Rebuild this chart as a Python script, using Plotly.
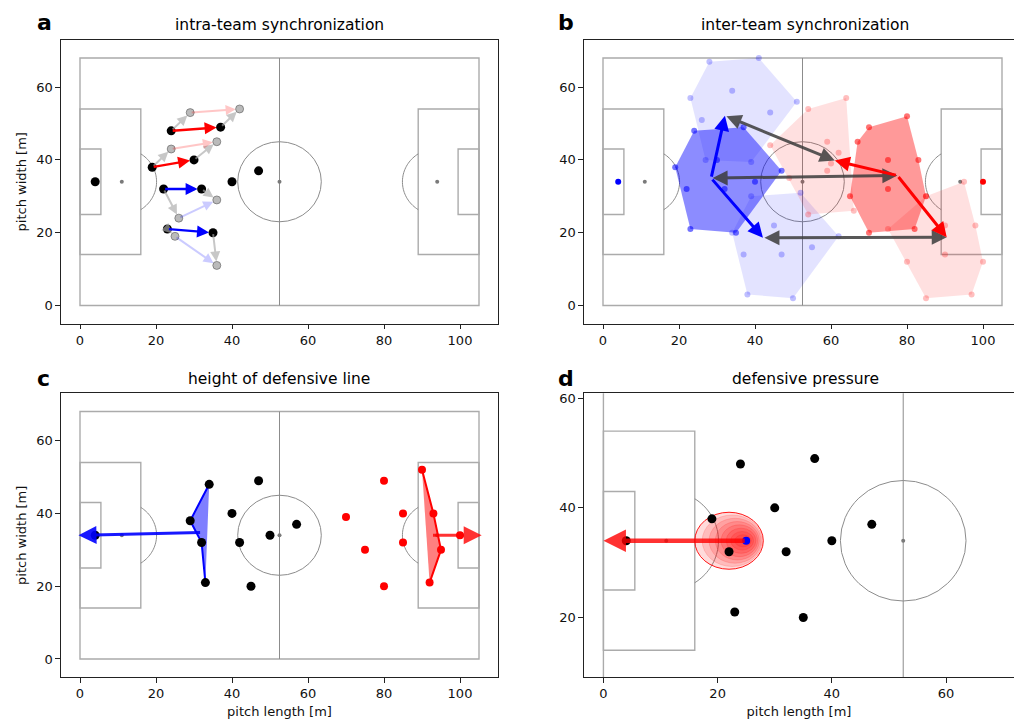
import numpy as np
import plotly.graph_objects as go

# ---------------------------------------------------------------- data
# (a) intra-team synchronization: four players, current run and shifted run
a_team = ["red", "red", "blue", "blue"]
a_x0 = [24, 19, 22, 23]
a_y0 = [48, 38, 32, 21]
a_x1 = [37, 30, 32, 35]
a_y1 = [49, 40, 32, 20]
a_alt_x0 = [29, 24, 26, 25]
a_alt_y0 = [53, 43, 24, 19]
a_alt_x1 = [42, 36, 36, 36]
a_alt_y1 = [54, 45, 29, 11]
a_other_x = [4, 40, 47]
a_other_y = [34, 34, 37]

# (b) inter-team synchronization: team shapes (outfield players) and goalkeepers
b_blue_gk = (4, 34)
b_red_gk = (100, 34)
b_blue_now_x = [24, 37, 19, 30, 22, 32, 23, 35, 40, 47]
b_blue_now_y = [48, 49, 38, 40, 32, 32, 21, 20, 34, 37]
b_blue_up_x = [28, 41, 51, 44, 34, 23, 26, 39, 27, 36]
b_blue_up_y = [67, 68, 56, 53, 59, 57, 51, 39.4, 40, 49.5]
b_blue_low_x = [34, 39, 45, 52, 62, 55, 50, 38, 37, 47]
b_blue_low_y = [20, 30, 22, 31, 19, 16, 2, 3, 14, 14]
b_red_now_x = [70, 80, 83, 75, 67, 65, 75, 85, 82, 70]
b_red_now_y = [49, 52, 40, 40, 45, 30, 32, 30, 21, 20]
b_red_up_x = [54, 64, 59, 59, 44, 49, 54, 66, 60, 62]
b_red_up_y = [54, 57, 45, 37, 44, 35, 25, 26, 39, 42]
b_red_low_x = [95, 90, 98, 90, 100, 97, 85, 80, 75, 85]
b_red_low_y = [34, 22, 22, 14, 12, 3, 2, 12, 21, 30]

# (c) height of defensive line
c_blue_line_x = [34, 29, 32, 33]
c_blue_line_y = [48, 38, 32, 21]
c_blue_other_x = [4, 40, 42, 50, 57, 47, 45]
c_blue_other_y = [34, 40, 32, 34, 37, 49, 20]
c_red_line_x = [90, 93, 95, 92]
c_red_line_y = [52, 40, 30, 21]
c_red_other_x = [80, 70, 85, 85, 75, 80, 100]
c_red_other_y = [49, 39, 40, 32, 30, 20, 34]
c_arrow_x0 = [32.0, 92.5]
c_arrow_y0 = [34.75, 34.0]
c_arrow_x1 = [-0.4, 105.7]
c_arrow_y1 = [34.0, 34.0]

# (d) defensive pressure
d_team_x = [4, 24, 37, 19, 30, 22, 32, 23, 35, 40, 47]
d_team_y = [34, 48, 49, 38, 40, 32, 32, 21, 20, 34, 37]
d_ball = (25, 34)
d_goal = (0, 34)
# pressure iso-lines (outer to inner): x and y extents
d_lvl_x0 = [16.0, 17.3, 18.5, 19.6, 20.6, 21.5, 22.3, 23.0]
d_lvl_x1 = [28.0, 27.8, 27.6, 27.3, 27.0, 26.7, 26.3, 25.9]
d_lvl_y0 = [28.8, 29.3, 29.9, 30.5, 31.1, 31.7, 32.3, 32.9]
d_lvl_y1 = [39.2, 38.7, 38.1, 37.5, 36.9, 36.3, 35.7, 35.1]

# ---------------------------------------------------------------- helpers
W, H = 1014, 719
FONT = "DejaVu Sans"


def px(x):
    return x / W


def py(y):
    return 1 - y / H


def convex_hull(xs, ys):
    pts = sorted(set(zip(xs, ys)))

    def cross(o, a, b):
        return (a[0] - o[0]) * (b[1] - o[1]) - (a[1] - o[1]) * (b[0] - o[0])

    lower, upper = [], []
    for p in pts:
        while len(lower) >= 2 and cross(lower[-2], lower[-1], p) <= 0:
            lower.pop()
        lower.append(p)
    for p in reversed(pts):
        while len(upper) >= 2 and cross(upper[-2], upper[-1], p) <= 0:
            upper.pop()
        upper.append(p)
    hull = lower[:-1] + upper[:-1]
    return [p[0] for p in hull], [p[1] for p in hull]


BOX_C = "#ababab"
MID_C = "#8c8c8c"


def pitch_shapes(xr, yr):
    shapes = []

    def rect(x0, y0, x1, y1):
        shapes.append(dict(type="rect", xref=xr, yref=yr, x0=x0, y0=y0, x1=x1, y1=y1,
                           line=dict(color=BOX_C, width=1.4), layer="below"))

    rect(0, 0, 105, 68)
    rect(0, 14, 16, 54)
    rect(0, 25, 5.5, 43)
    rect(89, 14, 105, 54)
    rect(99.5, 25, 105, 43)
    shapes.append(dict(type="line", xref=xr, yref=yr, x0=52.5, x1=52.5, y0=0, y1=68,
                       line=dict(color=MID_C, width=1), layer="below"))
    shapes.append(dict(type="circle", xref=xr, yref=yr, x0=52.5 - 11, x1=52.5 + 11,
                       y0=34 - 11, y1=34 + 11, line=dict(color=MID_C, width=1), layer="below"))
    r = 9.15
    lim = np.arccos(5.0 / r)
    th = np.linspace(-lim, lim, 40)
    for cx, sgn in ((11, 1), (94, -1)):
        xs = cx + sgn * r * np.cos(th)
        ys = 34 + r * np.sin(th)
        path = "M" + " L".join(f"{x:.3f},{y:.3f}" for x, y in zip(xs, ys))
        shapes.append(dict(type="path", xref=xr, yref=yr, path=path,
                           line=dict(color=MID_C, width=1), layer="below"))
    return shapes


def spots(xa, ya):
    return go.Scatter(x=[11, 52.5, 94], y=[34, 34, 34], xaxis=xa, yaxis=ya, mode="markers",
                      marker=dict(size=4, color="#7a7a7a"), hoverinfo="skip", showlegend=False)


def arrow(xr, yr, x0, y0, x1, y1, color, width, size=1.0, head=2, both=False, standoff=0):
    d = dict(x=x1, y=y1, ax=x0, ay=y0, xref=xr, yref=yr, axref=xr, ayref=yr,
             text="", showarrow=True, arrowhead=head, arrowsize=size, arrowwidth=width,
             arrowcolor=color, standoff=standoff)
    if both:
        d.update(arrowside="end+start", startarrowhead=head, startarrowsize=size,
                 startstandoff=standoff)
    return d


fig = go.Figure()
shapes = []
annotations = []

# ---------------------------------------------------------------- panel a
shapes += pitch_shapes("x", "y")
fig.add_trace(spots("x", "y"))
for i, team in enumerate(a_team):
    faint = "rgba(255,0,0,0.22)" if team == "red" else "rgba(0,0,255,0.2)"
    strong = "#ff0000" if team == "red" else "#0000ff"
    annotations.append(arrow("x", "y", a_x0[i], a_y0[i], a_alt_x0[i], a_alt_y0[i],
                             "rgba(170,170,170,0.65)", 2, 1.0, standoff=4))
    annotations.append(arrow("x", "y", a_x1[i], a_y1[i], a_alt_x1[i], a_alt_y1[i],
                             "rgba(170,170,170,0.65)", 2, 1.0, standoff=4))
    annotations.append(arrow("x", "y", a_alt_x0[i], a_alt_y0[i], a_alt_x1[i], a_alt_y1[i],
                             faint, 2, 1.0, standoff=4))
    annotations.append(arrow("x", "y", a_x0[i], a_y0[i], a_x1[i], a_y1[i],
                             strong, 2.4, 1.0, standoff=4))
fig.add_trace(go.Scatter(x=a_alt_x0 + a_alt_x1, y=a_alt_y0 + a_alt_y1, xaxis="x", yaxis="y",
                         mode="markers", marker=dict(size=8, color="rgba(140,140,140,0.6)",
                                                     line=dict(color="rgba(90,90,90,0.6)", width=1)),
                         hoverinfo="skip", showlegend=False))
fig.add_trace(go.Scatter(x=a_x0 + a_x1 + a_other_x, y=a_y0 + a_y1 + a_other_y, xaxis="x", yaxis="y",
                         mode="markers", marker=dict(size=9, color="black"),
                         hoverinfo="skip", showlegend=False))

# ---------------------------------------------------------------- panel b
shapes += pitch_shapes("x2", "y2")
fig.add_trace(spots("x2", "y2"))
hull_sets = [
    (b_blue_up_x, b_blue_up_y, "rgba(0,0,255,0.11)", "rgba(0,0,255,0.25)", b_blue_gk),
    (b_blue_low_x, b_blue_low_y, "rgba(0,0,255,0.11)", "rgba(0,0,255,0.25)", b_blue_gk),
    (b_red_up_x, b_red_up_y, "rgba(255,0,0,0.12)", "rgba(255,0,0,0.25)", b_red_gk),
    (b_red_low_x, b_red_low_y, "rgba(255,0,0,0.12)", "rgba(255,0,0,0.25)", b_red_gk),
    (b_blue_now_x, b_blue_now_y, "rgba(0,0,255,0.45)", "rgba(0,0,255,0.55)", b_blue_gk),
    (b_red_now_x, b_red_now_y, "rgba(255,0,0,0.4)", "rgba(255,0,0,0.55)", b_red_gk),
]
centroids = []
for xs, ys, fillc, dotc, gk in hull_sets:
    hx, hy = convex_hull(xs, ys)
    fig.add_trace(go.Scatter(x=hx, y=hy, xaxis="x2", yaxis="y2", mode="lines", fill="toself",
                             fillcolor=fillc, line=dict(width=0), hoverinfo="skip", showlegend=False))
    centroids.append((float(np.mean(list(xs) + [gk[0]])), float(np.mean(list(ys) + [gk[1]]))))
for xs, ys, fillc, dotc, gk in hull_sets:
    fig.add_trace(go.Scatter(x=xs, y=ys, xaxis="x2", yaxis="y2", mode="markers",
                             marker=dict(size=6, color=dotc), hoverinfo="skip", showlegend=False))
fig.add_trace(go.Scatter(x=[b_blue_gk[0]], y=[b_blue_gk[1]], xaxis="x2", yaxis="y2", mode="markers",
                         marker=dict(size=6, color="#0000ff"), hoverinfo="skip", showlegend=False))
fig.add_trace(go.Scatter(x=[b_red_gk[0]], y=[b_red_gk[1]], xaxis="x2", yaxis="y2", mode="markers",
                         marker=dict(size=6, color="#ff0000"), hoverinfo="skip", showlegend=False))
bu, bl, ru, rl, bn, rn = centroids
for a, b in ((bn, rn), (bu, ru), (bl, rl)):
    annotations.append(arrow("x2", "y2", a[0], a[1], b[0], b[1], "rgba(60,60,60,0.85)", 3, 1.0,
                             both=True))
for tgt in (bu, bl):
    annotations.append(arrow("x2", "y2", bn[0], bn[1], tgt[0], tgt[1], "#0000ff", 3, 1.0))
for tgt in (ru, rl):
    annotations.append(arrow("x2", "y2", rn[0], rn[1], tgt[0], tgt[1], "#ff0000", 3, 1.0))

# ---------------------------------------------------------------- panel c
shapes += pitch_shapes("x3", "y3")
fig.add_trace(spots("x3", "y3"))
fig.add_trace(go.Scatter(x=c_blue_line_x, y=c_blue_line_y, xaxis="x3", yaxis="y3", mode="lines",
                         fill="toself", fillcolor="rgba(0,0,255,0.5)",
                         line=dict(color="#0000ff", width=2), hoverinfo="skip", showlegend=False))
fig.add_trace(go.Scatter(x=c_red_line_x, y=c_red_line_y, xaxis="x3", yaxis="y3", mode="lines",
                         fill="toself", fillcolor="rgba(255,0,0,0.5)",
                         line=dict(color="#ff0000", width=2), hoverinfo="skip", showlegend=False))
fig.add_trace(go.Scatter(x=c_red_line_x + c_red_other_x, y=c_red_line_y + c_red_other_y,
                         xaxis="x3", yaxis="y3", mode="markers",
                         marker=dict(size=8, color="#ff0000"), hoverinfo="skip", showlegend=False))
fig.add_trace(go.Scatter(x=c_blue_line_x + c_blue_other_x, y=c_blue_line_y + c_blue_other_y,
                         xaxis="x3", yaxis="y3", mode="markers",
                         marker=dict(size=9, color="black"), hoverinfo="skip", showlegend=False))
annotations.append(arrow("x3", "y3", c_arrow_x0[0], c_arrow_y0[0], c_arrow_x1[0], c_arrow_y1[0],
                         "rgba(0,0,255,0.9)", 3, 1.2))
annotations.append(arrow("x3", "y3", c_arrow_x0[1], c_arrow_y0[1], c_arrow_x1[1], c_arrow_y1[1],
                         "rgba(255,0,0,0.8)", 3, 1.2))

# ---------------------------------------------------------------- panel d
shapes += pitch_shapes("x4", "y4")
for i in range(len(d_lvl_x0)):
    shapes.append(dict(type="circle", xref="x4", yref="y4",
                       x0=d_lvl_x0[i], x1=d_lvl_x1[i], y0=d_lvl_y0[i], y1=d_lvl_y1[i],
                       fillcolor="rgba(255,0,0,0.14)",
                       line=dict(color="rgba(255,0,0,0.9)" if i == 0 else "rgba(255,0,0,0.15)",
                                 width=1), layer="below"))
fig.add_trace(spots("x4", "y4"))
annotations.append(arrow("x4", "y4", d_ball[0], d_ball[1], d_goal[0], d_goal[1],
                         "rgba(255,0,0,0.8)", 4.5, 1.0))
fig.add_trace(go.Scatter(x=d_team_x, y=d_team_y, xaxis="x4", yaxis="y4", mode="markers",
                         marker=dict(size=9, color="black"), hoverinfo="skip", showlegend=False))
fig.add_trace(go.Scatter(x=[d_ball[0]], y=[d_ball[1]], xaxis="x4", yaxis="y4", mode="markers",
                         marker=dict(size=8, color="#0000ff"), hoverinfo="skip", showlegend=False))

# ---------------------------------------------------------------- titles and panel letters
for txt, cx, cy in (("intra-team synchronization", 279, 22), ("inter-team synchronization", 805, 22),
                    ("height of defensive line", 279, 378), ("defensive pressure", 805, 378)):
    annotations.append(dict(text=txt, x=px(cx), y=py(cy), xref="paper", yref="paper",
                            showarrow=False, xanchor="center", yanchor="middle",
                            font=dict(family=FONT, size=15.5, color="black")))
for txt, cx, cy in (("a", 44, 20), ("b", 566, 20), ("c", 43, 377), ("d", 566, 377)):
    annotations.append(dict(text=f"<b>{txt}</b>", x=px(cx), y=py(cy), xref="paper", yref="paper",
                            showarrow=False, xanchor="center", yanchor="middle",
                            font=dict(family=FONT, size=22, color="black")))

# ---------------------------------------------------------------- axes
tick_font = dict(family=FONT, size=13, color="#111")


def axis(domain, rng, tickvals, anchor, mirror, title=None):
    d = dict(domain=domain, range=rng, tickvals=tickvals, anchor=anchor, showgrid=False,
             zeroline=False, showline=True, linecolor="#222", linewidth=1.1, mirror=mirror,
             ticks="outside", ticklen=4.5, tickwidth=1, tickcolor="#222", tickfont=tick_font,
             fixedrange=True)
    if title:
        d["title"] = dict(text=title, font=dict(family=FONT, size=13, color="#111"), standoff=6)
    return d


xt = [0, 20, 40, 60, 80, 100]
yt = [0, 20, 40, 60]
top_dom = [py(322), py(37)]
bot_dom = [py(677), py(392)]
left_dom = [px(61), px(498)]
right_dom = [px(584), 1.0]

fig.update_layout(
    width=W, height=H, margin=dict(l=0, r=0, t=0, b=0),
    paper_bgcolor="white", plot_bgcolor="white", showlegend=False,
    xaxis=axis(left_dom, [-5, 110], xt, "y", True),
    yaxis=axis(top_dom, [-5, 73], yt, "x", True, "pitch width [m]"),
    xaxis2=axis(right_dom, [-5, -5 + (W - 584) / 3.8], xt, "y2", True),
    yaxis2=axis(top_dom, [-5, 73], yt, "x2", False),
    xaxis3=axis(left_dom, [-5, 110], xt, "y3", True, "pitch length [m]"),
    yaxis3=axis(bot_dom, [-5, 73], yt, "x3", True, "pitch width [m]"),
    xaxis4=axis(right_dom, [-3.4, -3.4 + (W - 583.5) / 5.717], [0, 20, 40, 60], "y4", True,
                "pitch length [m]"),
    yaxis4=axis(bot_dom, [9.1, 60.9], [20, 40, 60], "x4", False),
    shapes=shapes,
    annotations=annotations,
)

fig.write_html("out.html")
